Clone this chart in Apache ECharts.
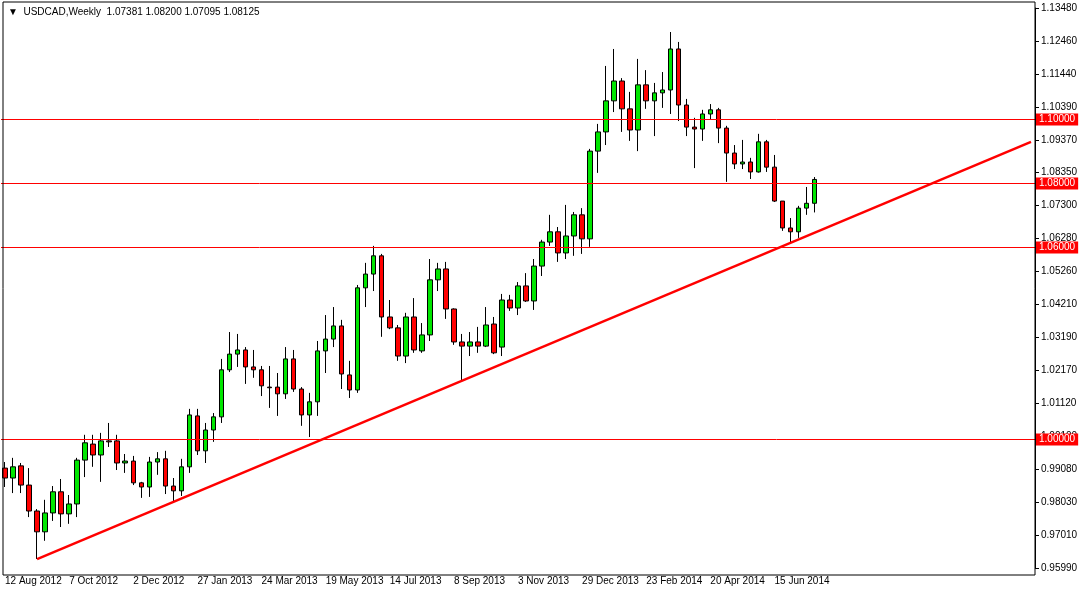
<!DOCTYPE html>
<html><head><meta charset="utf-8">
<script src="https://cdn.jsdelivr.net/npm/echarts@6/dist/echarts.min.js"></script>
<style>html,body{margin:0;padding:0;background:#fff}#c{width:1081px;height:593px}</style>
</head><body><div id="c"></div>
<script>
// Weekly candles starting 12 Aug 2012: [open, close, low, high]
const ohlc = [
[0.9911,0.9880,0.9852,0.9930],[0.9880,0.9915,0.9833,0.9943],[0.9918,0.9858,0.9833,0.9927],[0.9858,0.9777,0.9758,0.9911],
[0.9777,0.9712,0.9627,0.9783],[0.9712,0.9771,0.9684,0.9812],[0.9771,0.9837,0.9746,0.9855],[0.9837,0.9768,0.9727,0.9877],
[0.9768,0.9799,0.9737,0.9827],[0.9799,0.9936,0.9758,0.9943],[0.9936,0.9990,0.9883,1.0015],[0.9986,0.9952,0.9915,1.0015],
[0.9952,0.9996,0.9868,1.0021],[0.9996,0.9993,0.9977,1.0052],[0.9996,0.9927,0.9905,1.0015],[0.9927,0.9933,0.9896,0.9955],
[0.9933,0.9865,0.9858,0.9949],[0.9865,0.9852,0.9818,0.9868],[0.9852,0.9930,0.9821,0.9946],[0.9930,0.9940,0.9890,0.9961],
[0.9940,0.9855,0.9830,0.9965],[0.9855,0.9840,0.9808,0.9880],[0.9840,0.9915,0.9824,0.9940],[0.9915,1.0077,0.9896,1.0096],
[1.0074,0.9965,0.9952,1.0096],[0.9965,1.0030,0.9927,1.0052],[1.0030,1.0071,0.9993,1.0083],[1.0071,1.0218,1.0052,1.0252],
[1.0218,1.0267,1.0211,1.0336],[1.0267,1.0280,1.0227,1.0330],[1.0280,1.0227,1.0174,1.0289],[1.0227,1.0218,1.0193,1.0280],
[1.0218,1.0168,1.0136,1.0230],[1.0164,1.0162,1.0099,1.0230],[1.0164,1.0143,1.0074,1.0208],[1.0143,1.0252,1.0127,1.0289],
[1.0252,1.0158,1.0149,1.0280],[1.0158,1.0077,1.0043,1.0164],[1.0077,1.0118,1.0008,1.0146],[1.0118,1.0277,1.0074,1.0308],
[1.0277,1.0314,1.0208,1.0389],[1.0314,1.0355,1.0289,1.0414],[1.0355,1.0205,1.0158,1.0374],[1.0202,1.0155,1.0130,1.0246],
[1.0155,1.0474,1.0146,1.0483],[1.0474,1.0517,1.0414,1.0552],[1.0517,1.0574,1.0464,1.0605],[1.0574,1.0383,1.0321,1.0580],
[1.0383,1.0349,1.0345,1.0436],[1.0349,1.0261,1.0246,1.0358],[1.0261,1.0383,1.0239,1.0396],[1.0383,1.0280,1.0271,1.0442],
[1.0277,1.0327,1.0271,1.0364],[1.0327,1.0499,1.0308,1.0564],[1.0499,1.0533,1.0464,1.0552],[1.0533,1.0408,1.0377,1.0555],
[1.0408,1.0305,1.0296,1.0410],[1.0305,1.0292,1.0186,1.0330],[1.0292,1.0305,1.0261,1.0336],[1.0305,1.0292,1.0271,1.0352],
[1.0292,1.0358,1.0289,1.0414],[1.0361,1.0271,1.0267,1.0383],[1.0289,1.0436,1.0261,1.0455],[1.0436,1.0411,1.0402,1.0452],
[1.0411,1.0480,1.0389,1.0492],[1.0480,1.0433,1.0430,1.0520],[1.0433,1.0542,1.0405,1.0564],[1.0542,1.0617,1.0511,1.0624],
[1.0617,1.0649,1.0605,1.0702],[1.0649,1.0583,1.0555,1.0664],[1.0583,1.0636,1.0564,1.0733],[1.0636,1.0702,1.0574,1.0711],
[1.0702,1.0627,1.0580,1.0723],[1.0627,1.0901,1.0602,1.0908],[1.0901,1.0961,1.0833,1.0986],[1.0961,1.1058,1.0920,1.1167],
[1.1058,1.1120,1.1023,1.1220],[1.1120,1.1033,1.0961,1.1129],[1.1033,1.0967,1.0933,1.1086],[1.0967,1.1108,1.0901,1.1189],
[1.1108,1.1058,1.1033,1.1154],[1.1058,1.1083,1.0948,1.1114],[1.1083,1.1092,1.1036,1.1148],[1.1092,1.1220,1.1017,1.1273],
[1.1220,1.1045,1.0995,1.1242],[1.1045,1.0976,1.0948,1.1064],[1.0976,1.0970,1.0848,1.1005],[1.0970,1.1017,1.0933,1.1030],
[1.1017,1.1030,1.1001,1.1048],[1.1030,1.0973,1.0926,1.1036],[1.0973,1.0895,1.0805,1.0980],[1.0895,1.0861,1.0845,1.0920],
[1.0861,1.0867,1.0845,1.0936],[1.0867,1.0836,1.0814,1.0880],[1.0836,1.0930,1.0834,1.0955],[1.0930,1.0851,1.0836,1.0936],
[1.0851,1.0745,1.0742,1.0889],[1.0745,1.0661,1.0652,1.0745],[1.0661,1.0649,1.0614,1.0692],[1.0649,1.0723,1.0630,1.0730],
[1.0723,1.0738,1.0702,1.0789],[1.07381,1.08125,1.07095,1.08200]
];
const yTickLabels = ['0.95990','0.97010','0.98030','0.99080','1.00100','1.01120','1.02170','1.03190','1.04210',
  '1.05260','1.06280','1.07300','1.08350','1.09370','1.10390','1.11440','1.12460','1.13480'];
const levels = [1.10000, 1.08000, 1.06000, 1.00000];
const trendStart = [4, 0.9627];
const trendEnd = [128, 1.0930];
const titleText = '\u25BC  USDCAD,Weekly  1.07381 1.08200 1.07095 1.08125';
const startDate = new Date(Date.UTC(2012,7,12));
const totalSlots = 129;

const mon = ['Jan','Feb','Mar','Apr','May','Jun','Jul','Aug','Sep','Oct','Nov','Dec'];
const cats = [];
for (let i=0;i<totalSlots;i++){
  const d = new Date(startDate.getTime()+i*7*86400000);
  cats.push(i<ohlc.length ? d.getUTCDate()+' '+mon[d.getUTCMonth()]+' '+d.getUTCFullYear() : '');
}
const yMin=0.9599, yMax=1.1348, yInt=(yMax-yMin)/17;
const font='"Liberation Sans", Arial, sans-serif';
const chart = echarts.init(document.getElementById('c'));
chart.setOption({
  animation:false,
  backgroundColor:'#fff',
  grid:{left:1,right:46,top:8,height:560},
  xAxis:{type:'category',data:cats,boundaryGap:true,
    axisLine:{show:false},axisTick:{show:false},splitLine:{show:false},
    axisLabel:{interval:7,showMinLabel:true,hideOverlap:false,align:'left',margin:8,color:'#000',fontSize:10,fontFamily:font}},
  yAxis:{type:'value',position:'right',min:yMin,max:yMax,interval:yInt,scale:true,
    axisLine:{show:true,lineStyle:{color:'#000'}},
    axisTick:{show:true,length:4,lineStyle:{color:'#000'}},
    splitLine:{show:false},
    axisLabel:{color:'#000',fontSize:10,fontFamily:font,margin:6,
      formatter:(v)=>yTickLabels[Math.round((v-yMin)/yInt)]||''}},
  graphic:[
    {type:'rect',shape:{x:3,y:2,width:1032,height:573},style:{fill:'none',stroke:'#000',lineWidth:1},z:10},
    {type:'text',left:8,top:7,style:{text:titleText,font:'10px '+font,fill:'#000'},z:11}
  ],
  series:[{
    type:'candlestick',data:ohlc,barWidth:5,
    itemStyle:{color:'#00e600',color0:'#ff0000',borderColor:'#000',borderColor0:'#000',borderWidth:1},
    markLine:{symbol:'none',silent:true,animation:false,
      data:[
        ...levels.map(v=>({yAxis:v,lineStyle:{color:'#ff0000',width:1,type:'solid'},
          label:{show:true,position:'end',distance:1,formatter:v.toFixed(5),color:'#fff',backgroundColor:'#ff0000',
            padding:[1,3,1,3],fontSize:10,fontFamily:font}})),
        [{coord:trendStart,lineStyle:{color:'#ff0000',width:2.5,type:'solid'},label:{show:false}},{coord:trendEnd}]
      ]}
  }]
});
</script></body></html>
